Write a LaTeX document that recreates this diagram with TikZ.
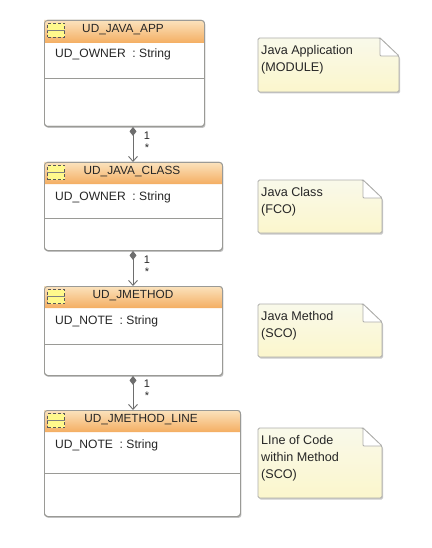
\documentclass[tikz,border=0pt]{standalone}
\usepackage{fontspec}
\setmainfont{Liberation Sans}
\usetikzlibrary{arrows.meta,shadows}
\definecolor{framec}{HTML}{9A9A96}
\definecolor{headtop}{HTML}{FBE3BE}
\definecolor{headbot}{HTML}{F4AE62}
\definecolor{notetop}{HTML}{F9F9EA}
\definecolor{notebot}{HTML}{FBF6CC}
\definecolor{inktext}{HTML}{262626}
\definecolor{connc}{HTML}{6E6E6E}
\tikzset{
  classbox/.style={draw=framec,line width=0.9pt,fill=white,rounded corners=3pt,anchor=north west,inner sep=0pt,
    drop shadow={shadow xshift=1pt,shadow yshift=-1.5pt,opacity=.4,fill=black!60}},
  headbar/.style={top color=headtop,bottom color=headbot,draw=none},
  outline/.style={draw=framec,line width=0.9pt,rounded corners=3pt},
  icon/.style={draw=black!65,densely dashed,line width=0.8pt,fill=yellow!45!white,minimum width=17pt,minimum height=14pt,inner sep=0pt},
  divider/.style={draw=framec,line width=0.7pt},
  title/.style={font=\fontsize{11.8pt}{14pt}\selectfont,text=inktext,inner sep=0pt},
  attr/.style={font=\fontsize{12.1pt}{14pt}\selectfont,text=inktext,anchor=base west,inner sep=0pt},
  notetext/.style={font=\fontsize{12.6pt}{17pt}\selectfont,text=inktext,align=left,anchor=north west,inner sep=0pt},
  notebody/.style={draw=framec!80,line width=0.8pt,top color=notetop,bottom color=notebot,rounded corners=1.5pt,
    drop shadow={shadow xshift=1.2pt,shadow yshift=-1.5pt,opacity=.35,fill=black!60}},
  conn/.style={draw=connc,line width=0.9pt,{Diamond[length=9pt,width=7pt,fill=connc]}-{Straight Barb[length=5pt,width=9pt]}},
  mult/.style={font=\fontsize{11pt}{12pt}\selectfont,text=inktext,inner sep=0pt}
}
% #1 name, #2 x, #3 y, #4 width, #5 height, #6 header height, #7 divider offset, #8 title, #9 title x
\newcommand{\classbl}[9]{%
  \node[classbox,minimum width=#4pt,minimum height=#5pt] (#1) at (#2,#3) {};
  \path[headbar,rounded corners=3pt] (#1.north west) -- ++(#4pt,0) [sharp corners] -- ++(0,-#6pt) -- ++(-#4pt,0) -- cycle;
  \node[outline,minimum width=#4pt,minimum height=#5pt,inner sep=0pt] at (#1.center) {};
  \node[icon] (#1icon) at ([xshift=12pt,yshift=-10.5pt]#1.north west) {};
  \draw[draw=black!50,line width=0.5pt] (#1icon.west) -- (#1icon.east);
  \node[title] (#1title) at ([xshift=#9pt,yshift=-10pt]#1.north west) {#8};
  \draw[divider] ([yshift=-#7pt]#1.north west) -- ([yshift=-#7pt]#1.north east);
}
\newcommand{\notebl}[6]{%
  % #1 name, #2 x, #3 y, #4 w, #5 h, #6 text
  \path[notebody] (#2,#3) -- (#2+#4-19,#3) -- (#2+#4,#3+18) -- (#2+#4,#3+#5) -- (#2,#3+#5) -- cycle;
  \draw[draw=framec!80,line width=0.8pt,fill=white] (#2+#4-19,#3) -- (#2+#4-19,#3+14) [rounded corners=1pt] -- (#2+#4-19,#3+18) -- (#2+#4,#3+18) [sharp corners] -- cycle;
  \node[notetext] (#1) at (#2+3,#3+7) {#6};
}
\begin{document}
\begin{tikzpicture}[x=1pt,y=-1pt]
\useasboundingbox (0,0) rectangle (431,548);
\fill[white] (0,0) rectangle (431,548);
\classbl{app}{44}{20}{160}{106}{23}{58}{UD\_JAVA\_APP}{79}
\classbl{jclass}{44}{162}{178}{88}{22}{56}{UD\_JAVA\_CLASS}{88}
\classbl{jmethod}{44}{286}{178}{89}{22}{58}{UD\_JMETHOD}{89}
\classbl{jline}{44}{410}{196}{106}{22}{63}{UD\_JMETHOD\_LINE}{97}
\node[attr] (appattr) at (55,58) {UD\_OWNER\ \ : String};
\node[attr] (classattr) at (55,200) {UD\_OWNER\ \ : String};
\node[attr] (methattr) at (55,324) {UD\_NOTE\ \ : String};
\node[attr] (lineattr) at (55,448) {UD\_NOTE\ \ : String};
\draw[conn] ([xshift=89pt]app.south west) -- ([xshift=89pt]jclass.north west);
\draw[conn] ([xshift=89pt]jclass.south west) -- ([xshift=89pt]jmethod.north west);
\draw[conn] ([xshift=89pt]jmethod.south west) -- ([xshift=89pt]jline.north west);
\node[mult] (m1a) at (147,136) {1};
\node[mult] (m1b) at (147,148) {*};
\node[mult] (m2a) at (147,260) {1};
\node[mult] (m2b) at (147,272) {*};
\node[mult] (m3a) at (147,384) {1};
\node[mult] (m3b) at (147,396) {*};
\notebl{n1}{258}{38}{141}{54}{Java Application\\(MODULE)}
\notebl{n2}{258}{180}{124}{53}{Java Class\\(FCO)}
\notebl{n3}{258}{304}{124}{53}{Java Method\\(SCO)}
\notebl{n4}{258}{428}{124}{70}{LIne of Code\\within Method\\(SCO)}
\end{tikzpicture}
\end{document}
